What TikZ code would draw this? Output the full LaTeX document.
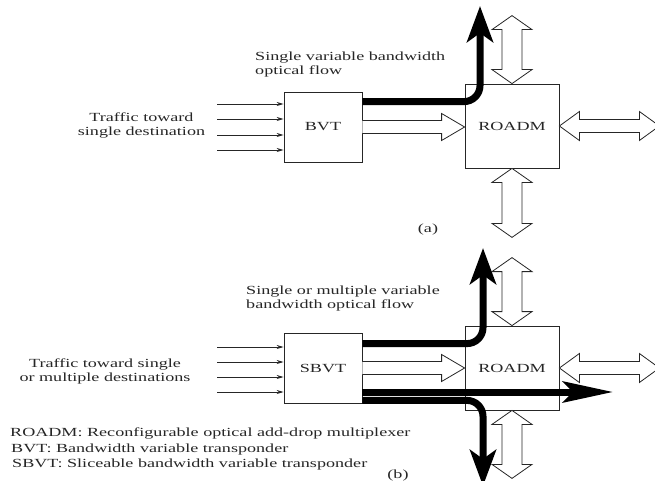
\documentclass[tikz,border=0pt]{standalone}
\usepackage{fontspec}
\setmainfont[FakeStretch=1.46]{Liberation Serif}
\usetikzlibrary{arrows.meta,calc}
\definecolor{ink}{gray}{0.15}
\begin{document}
\begin{tikzpicture}[x=1pt,y=-1pt,
  lbl/.style={font=\fontsize{12.4}{14}\selectfont, inner sep=0pt, text=ink},
  box/.style={draw=ink, line width=0.8pt, inner sep=0pt, lbl},
  inarrow/.style={draw=ink, line width=0.8pt, -{Stealth[length=7pt,width=4pt]}},
  flow/.style={line width=7pt, rounded corners=16pt, -{Stealth[length=36pt,width=26pt,inset=9pt]}},
  flowstraight/.style={line width=7pt, -{Stealth[length=50pt,width=21pt,inset=10pt]}},
  hollow/.style={draw=ink, fill=white, line width=0.8pt, line join=miter},
  dblv/.pic={\path[hollow] (0,-#1/2) -- (20,-#1/2+14) -- (10,-#1/2+14) -- (10,#1/2-14) -- (20,#1/2-14) -- (0,#1/2) -- (-20,#1/2-14) -- (-10,#1/2-14) -- (-10,-#1/2+14) -- (-20,-#1/2+14) -- cycle;},
  dblh/.pic={\path[hollow] (-#1/2,0) -- (-#1/2+20,-14.5) -- (-#1/2+20,-6.5) -- (#1/2-20,-6.5) -- (#1/2-20,-14.5) -- (#1/2,0) -- (#1/2-20,14.5) -- (#1/2-20,6.5) -- (-#1/2+20,6.5) -- (-#1/2+20,14.5) -- cycle;}
]
\useasboundingbox (0,0) rectangle (655,481);

% ---------- (a) ----------
\node[box, minimum width=78pt, minimum height=70pt] (bvt) at (323,127) {BVT};
\node[box, minimum width=94pt, minimum height=84pt] (roadmA) at (512,126) {ROADM};

\foreach \y [count=\i] in {104,119,135,150} {
  \coordinate (ina\i) at (217,\y);
  \draw[inarrow] (ina\i) -- (bvt.west |- ina\i);
}

\path[hollow] ($(bvt.east)+(0,-6.5)$) -- ($(roadmA.west|-bvt.east)+(-23,-6.5)$) -- ++(0,-7) -- (roadmA.west|-bvt.east) -- ++(-23,13.5) -- ++(0,-7) -- ($(bvt.east)+(0,6.5)$);

\pic at ($(roadmA.north)+(0,-34)$) {dblv=68};
\pic at ($(roadmA.south)+(0,34.5)$) {dblv=69};
\pic at ($(roadmA.east)+(50,0)$) {dblh=100};

\coordinate (upA) at (480,6);
\draw[flow] ($(bvt.north east)+(0,10)$) -| (upA);

\node[lbl, anchor=west, align=left] (lblA) at (255,65) {Single variable bandwidth\\optical flow};
\node[lbl, align=center] (trA) at (141.5,125.5) {Traffic toward\\single destination};
\node[lbl] (capA) at (428,230) {(a)};

% ---------- (b) ----------
\node[box, minimum width=78pt, minimum height=70pt] (sbvt) at (323,368) {SBVT};
\node[box, minimum width=94pt, minimum height=84pt] (roadmB) at (512,368) {ROADM};

\foreach \y [count=\i] in {347,362,377,392} {
  \coordinate (inb\i) at (217,\y);
  \draw[inarrow] (inb\i) -- (sbvt.west |- inb\i);
}

\path[hollow] ($(sbvt.east)+(0,-6.5)$) -- ($(roadmB.west|-sbvt.east)+(-23,-6.5)$) -- ++(0,-7) -- (roadmB.west|-sbvt.east) -- ++(-23,13.5) -- ++(0,-7) -- ($(sbvt.east)+(0,6.5)$);

\pic at ($(roadmB.north)+(0,-34)$) {dblv=68};
\pic at ($(roadmB.south)+(0,34)$) {dblv=68};
\pic at ($(roadmB.east)+(50,0)$) {dblh=100};

\coordinate (upB) at (483,248);
\draw[flow] ($(sbvt.north east)+(0,11)$) -| (upB);
\coordinate (rtB) at (613,392);
\draw[flowstraight] ($(sbvt.east)+(0,24)$) -- (rtB);
\coordinate (dnB) at (483,486);
\draw[flow] ($(sbvt.south east)+(0,-3)$) -| (dnB);

\node[lbl, anchor=west, align=left] (lblB) at (246,298.5) {Single or multiple variable\\bandwidth optical flow};
\node[lbl, align=center] (trB) at (105,371) {Traffic toward single\\or multiple destinations};
\node[lbl] (capB) at (398,476) {(b)};

\node[lbl, anchor=west] (legA) at (10,433) {ROADM: Reconfigurable optical add-drop multiplexer};
\node[lbl, anchor=west] (legB) at (11,450) {BVT: Bandwidth variable transponder};
\node[lbl, anchor=west] (legC) at (12,465) {SBVT: Sliceable bandwidth variable transponder};
\end{tikzpicture}
\end{document}
